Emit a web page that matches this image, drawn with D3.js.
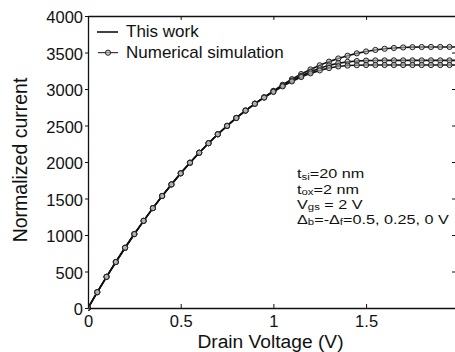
<!DOCTYPE html>
<html>
<head>
<meta charset="utf-8">
<script src="https://cdn.jsdelivr.net/npm/d3@7"></script>
<style>
  html, body { margin: 0; padding: 0; background: #fff; }
  svg { display: block; font-family: "Liberation Sans", Arial, Helvetica, sans-serif; }
</style>
</head>
<body>
<svg id="chart" width="455" height="352"></svg>
<script>
// ---------- data ----------
const voltage = [0, 0.05, 0.1, 0.15, 0.2, 0.25, 0.3, 0.35, 0.4, 0.45, 0.5, 0.55, 0.6, 0.65, 0.7, 0.75, 0.8, 0.85, 0.9, 0.95,
                 1.0, 1.05, 1.1, 1.15, 1.2, 1.25, 1.3, 1.35, 1.4, 1.45, 1.5, 1.55, 1.6, 1.65, 1.7, 1.75, 1.8, 1.85, 1.9, 1.95, 2.0];
const currentDelta050 = [0, 217, 427, 630, 825, 1013, 1194, 1368, 1534, 1693, 1845, 1990, 2127, 2257, 2380, 2495, 2603, 2705, 2800, 2887,
                 2975, 3058, 3135, 3205, 3268, 3325, 3375, 3418, 3456, 3488, 3514, 3535, 3551, 3562, 3569, 3573, 3575, 3576, 3576, 3576, 3576];
const currentDelta025 = [0, 217, 427, 630, 825, 1013, 1194, 1368, 1534, 1693, 1845, 1990, 2127, 2257, 2380, 2495, 2603, 2705, 2799, 2885,
                 2966, 3045, 3117, 3181, 3237, 3285, 3324, 3353, 3372, 3383, 3389, 3391, 3392, 3392, 3392, 3392, 3392, 3392, 3392, 3392, 3392];
const currentDelta000 = [0, 217, 427, 630, 825, 1013, 1194, 1368, 1534, 1693, 1845, 1990, 2127, 2257, 2380, 2495, 2603, 2704, 2797, 2882,
                 2960, 3036, 3104, 3164, 3214, 3255, 3287, 3309, 3321, 3326, 3328, 3328, 3328, 3328, 3328, 3328, 3328, 3328, 3328, 3328, 3328];
const xTicks = [0, 0.5, 1, 1.5];
const xTickLabels = ["0", "0.5", "1", "1.5"];
const yTicks = [0, 500, 1000, 1500, 2000, 2500, 3000, 3500, 4000];
const legendLabels = ["This work", "Numerical simulation"];
const xLabel = "Drain Voltage (V)";
const yLabel = "Normalized current";
const markerMaxV = 1.95;

const series = [currentDelta050, currentDelta025, currentDelta000];

// ---------- layout ----------
const svg = d3.select("#chart");
const mLeft = 88, mRight = 456, mTop = 16, mBottom = 308;
const x = d3.scaleLinear().domain([0, 1.985]).range([mLeft, mRight]);
const y = d3.scaleLinear().domain([0, 4000]).range([mBottom, mTop]);

svg.append("defs").append("clipPath").attr("id", "plotclip")
  .append("rect").attr("x", mLeft).attr("y", mTop - 5).attr("width", mRight - mLeft).attr("height", mBottom - mTop + 10);

const plot = svg.append("g").attr("clip-path", "url(#plotclip)");

const line = d3.line().x((d, i) => x(voltage[i])).y(d => y(d));

series.forEach(s => {
  plot.append("path").datum(s)
    .attr("d", line)
    .attr("fill", "none")
    .attr("stroke", "#111")
    .attr("stroke-width", 1.6);
});

series.forEach(s => {
  plot.append("g").selectAll("circle")
    .data(s.map((v, i) => ({ v: voltage[i], c: v })).filter(d => d.v <= markerMaxV + 1e-9))
    .join("circle")
    .attr("cx", d => x(d.v))
    .attr("cy", d => y(d.c))
    .attr("r", 2.6)
    .attr("fill", "#bbb")
    .attr("fill-opacity", 0.6)
    .attr("stroke", "#222")
    .attr("stroke-width", 1);
});

// ---------- axes ----------
const axisColor = "#111";
const fontSize = 16.5;

const bx = svg.append("g").attr("transform", `translate(0,${mBottom})`)
  .call(d3.axisBottom(x).tickValues(xTicks).tickFormat((d, i) => xTickLabels[i]).tickSizeInner(-4).tickSizeOuter(0).tickPadding(7));
const tx = svg.append("g").attr("transform", `translate(0,${mTop})`)
  .call(d3.axisTop(x).tickValues(xTicks).tickFormat("").tickSizeInner(-4).tickSizeOuter(0));
const ly = svg.append("g").attr("transform", `translate(${mLeft},0)`)
  .call(d3.axisLeft(y).tickValues(yTicks).tickFormat(d3.format("d")).tickSizeInner(3).tickSizeOuter(0).tickPadding(2));
const ry = svg.append("g").attr("transform", `translate(${mRight},0)`)
  .call(d3.axisRight(y).tickValues(yTicks).tickFormat("").tickSizeInner(-4).tickSizeOuter(0));

[bx, tx, ly, ry].forEach(g => {
  g.selectAll("path.domain").attr("stroke", axisColor).attr("stroke-width", 1.3);
  g.selectAll(".tick line").attr("stroke", axisColor).attr("stroke-width", 1);
  g.selectAll("text").attr("fill", "#111").attr("font-size", fontSize)
    .attr("font-family", "Liberation Sans, Arial, sans-serif");
});
ly.selectAll("text").attr("dy", "0.42em");
bx.selectAll("text").attr("dy", "0.72em");

// axis labels
svg.append("text").attr("x", (mLeft + 455) / 2 - 1).attr("y", 348)
  .attr("text-anchor", "middle").attr("font-size", 19.2).attr("fill", "#111").text(xLabel);
svg.append("text").attr("transform", "translate(27,160) rotate(-90)")
  .attr("text-anchor", "middle").attr("font-size", 19.5).attr("fill", "#111").text(yLabel);

// ---------- legend ----------
const lg = svg.append("g");
lg.append("line").attr("x1", 97).attr("x2", 118).attr("y1", 32).attr("y2", 32)
  .attr("stroke", "#111").attr("stroke-width", 1.6);
lg.append("text").attr("x", 126).attr("y", 36.5).attr("font-size", 17).attr("fill", "#111").text(legendLabels[0]);
lg.append("line").attr("x1", 98).attr("x2", 118).attr("y1", 52.7).attr("y2", 52.7)
  .attr("stroke", "#111").attr("stroke-width", 1);
lg.append("circle").attr("cx", 108).attr("cy", 52.7).attr("r", 2.6)
  .attr("fill", "#bbb").attr("fill-opacity", 0.6).attr("stroke", "#222").attr("stroke-width", 1);
lg.append("text").attr("x", 126).attr("y", 58).attr("font-size", 17).attr("fill", "#111").text(legendLabels[1]);

// ---------- annotation (compact text block) ----------
const annX = 297;
const annLines = [
  { y: 178.5, parts: [{ t: "t" }, { t: "si", sub: true }, { t: "=20 nm" }] },
  { y: 193.6, parts: [{ t: "t" }, { t: "ox", sub: true }, { t: "=2 nm" }] },
  { y: 208.7, parts: [{ t: "V" }, { t: "gs", sub: true }, { t: " = 2 V" }] },
  { y: 223.8, parts: [{ t: "\u0394" }, { t: "b", sub: true }, { t: "=-\u0394" }, { t: "f", sub: true }, { t: "=0.5, 0.25, 0 V" }] }
];
const annG = svg.append("g").attr("transform", `translate(${annX},0) scale(1.2,1)`);
annLines.forEach(ln => {
  const t = annG.append("text").attr("x", 0).attr("y", ln.y).attr("font-size", 13.5).attr("fill", "#111");
  ln.parts.forEach(p => {
    const ts = t.append("tspan").text(p.t);
    ts.attr("y", p.sub ? ln.y + 1.5 : ln.y);
    if (p.sub) ts.attr("font-size", 9.5);
  });
});
</script>
</body>
</html>
